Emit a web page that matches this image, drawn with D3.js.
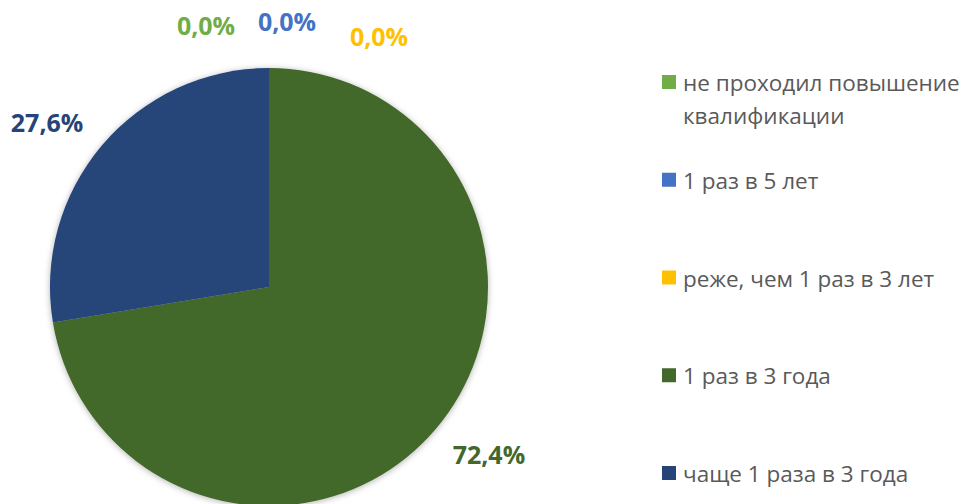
<html>
<head>
  <meta charset="utf-8">
  <style>
    body { margin: 0; background: #fff; }
    svg { font-family: "Open Sans", "Noto Sans", sans-serif; }
    .legend-text { fill: #595959; font-size: 22.5px; }
    .pct-label { font-weight: bold; font-size: 25px; }
  </style>
</head>
<body>
  <script src="https://cdn.jsdelivr.net/npm/d3@7"></script>
  <script>
    // values
    var categories = ["не проходил повышение квалификации", "1 раз в 5 лет", "реже, чем 1 раз в 3 лет", "1 раз в 3 года", "чаще 1 раза в 3 года"];
    var values = [0.0, 0.0, 0.0, 72.4, 27.6];
    var colors = ["#70AD47", "#4472C4", "#FFC000", "#43682B", "#264478"];
    var legendLines = [["не проходил повышение", "квалификации"], ["1 раз в 5 лет"], ["реже, чем 1 раз в 3 лет"], ["1 раз в 3 года"], ["чаще 1 раза в 3 года"]];
    // excel spreads the zero labels apart and shifts the outside labels a bit
    var labelNudge = [[-63, 12], [18, 8], [110, 23], [11, -10], [-13, 12]];

    var width = 969, height = 504;
    var cx = 269, cy = 287, radius = 219;

    var svg = d3.select("body").append("svg")
      .attr("width", width)
      .attr("height", height);

    var defs = svg.append("defs");
    var shadow = defs.append("filter").attr("id", "shadow")
      .attr("x", "-10%").attr("y", "-10%").attr("width", "120%").attr("height", "120%");
    shadow.append("feDropShadow")
      .attr("dx", 0).attr("dy", 1).attr("stdDeviation", 3)
      .attr("flood-color", "#000").attr("flood-opacity", 0.3);

    var pie = d3.pie().sort(null).value(d => d);
    var arcs = pie(values);
    var arc = d3.arc().innerRadius(0).outerRadius(radius);
    var labelArc = d3.arc().innerRadius(274).outerRadius(274);

    var g = svg.append("g").attr("transform", "translate(" + cx + "," + cy + ")");

    g.append("g").attr("filter", "url(#shadow)")
      .selectAll("path")
      .data(arcs)
      .join("path")
      .attr("d", arc)
      .attr("fill", (d, i) => colors[i]);

    g.selectAll("text.pct-label")
      .data(arcs)
      .join("text")
      .attr("class", "pct-label")
      .attr("x", (d, i) => labelArc.centroid(d)[0] + labelNudge[i][0])
      .attr("y", (d, i) => labelArc.centroid(d)[1] + labelNudge[i][1])
      .attr("text-anchor", "middle")
      .attr("dominant-baseline", "central")
      .attr("fill", (d, i) => colors[i])
      .text(d => d3.format(".1f")(d.data).replace(".", ",") + "%");

    // legend
    var legendY = d3.scalePoint().domain(d3.range(categories.length)).range([82, 473]);
    var legend = svg.append("g").selectAll("g")
      .data(categories)
      .join("g")
      .attr("transform", (d, i) => "translate(662," + legendY(i) + ")");

    legend.append("rect")
      .attr("x", 0).attr("y", -7)
      .attr("width", 14).attr("height", 14)
      .attr("fill", (d, i) => colors[i]);

    legend.append("text")
      .attr("class", "legend-text")
      .attr("x", 21)
      .attr("dominant-baseline", "central")
      .selectAll("tspan")
      .data((d, i) => legendLines[i])
      .join("tspan")
      .attr("x", 21)
      .attr("dy", (d, j) => j === 0 ? 0 : 33)
      .text(d => d);
  </script>
</body>
</html>
